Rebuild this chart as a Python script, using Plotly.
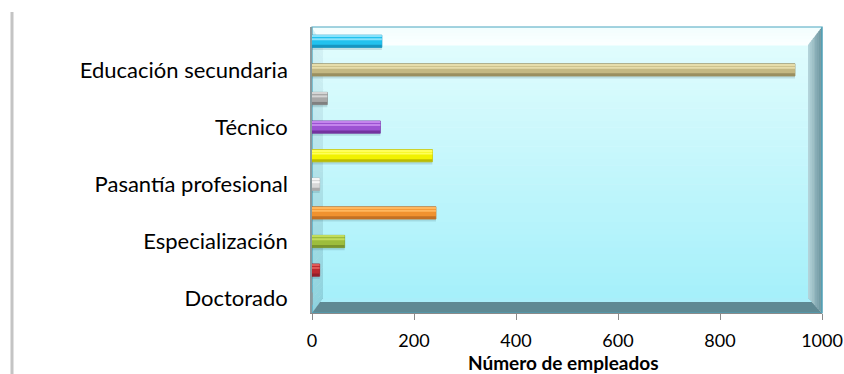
import plotly.graph_objects as go

# ---- data -------------------------------------------------------------
categories = [
    "Doctorado", "Maestría", "Especialización", "Profesional",
    "Pasantía profesional", "Tecnólogo", "Técnico", "Auxiliar",
    "Educación secundaria", "Educación primaria",
]
empleados = [0, 15, 64, 243, 15, 236, 134, 30, 947, 137]
axis_labels = categories[::2]
x_ticks = [0, 200, 400, 600, 800, 1000]

# bar shades: base face, light upper facet, dark lower facet
base_colors = ["#c0c0c0", "#bc2a2f", "#9dbd3d", "#f0922f", "#d8d8d8",
               "#f2f200", "#9c52d2", "#a8a8a8", "#c4b883", "#22c2ee"]
light_colors = ["#e0e0e0", "#e05a58", "#c2dc5c", "#ffb75e", "#f6f6f6",
                "#ffff5a", "#c384ec", "#d4d4d4", "#e6ddab", "#86e2fb"]
dark_colors = ["#9a9a9a", "#92202a", "#7a952e", "#c27124", "#acacac",
               "#bcbc00", "#73339f", "#808080", "#9a8f60", "#1697c2"]

# ---- geometry of the page -------------------------------------------
W, H = 844, 374
L, R, T, B = 312, 22, 27, 61
PW, PH = W - L - R, H - T - B


def px(xp):
    return (xp - L) / PW


def py(yp):
    return (H - B - yp) / PH


def poly(points, color, line=None):
    path = "M " + " L ".join(f"{px(a):.5f},{py(b):.5f}" for a, b in points) + " Z"
    return dict(type="path", xref="paper", yref="paper", path=path,
                fillcolor=color, line=dict(width=0) if line is None else line,
                layer="below")


def mix(c1, c2, t):
    a = [int(c1[i:i + 2], 16) for i in (1, 3, 5)]
    b = [int(c2[i:i + 2], 16) for i in (1, 3, 5)]
    return "#" + "".join(f"{round(x + (y - x) * t):02x}" for x, y in zip(a, b))


x0, x1, y0, y1 = 312, 822, 27, 313      # outer box
ix0, ix1, iy0, iy1 = 323, 808, 45, 298  # inner (back) face

shapes = []

# back face with a vertical gradient
n = 40
for i in range(n):
    ya = iy0 + (iy1 - iy0) * i / n
    yb = iy0 + (iy1 - iy0) * (i + 1) / n + 0.6
    shapes.append(poly([(ix0, ya), (ix1, ya), (ix1, yb), (ix0, yb)],
                       mix("#dffcfd", "#a6f0fa", i / (n - 1))))

# left wall
for i in range(n):
    t0, t1 = i / n, (i + 1) / n
    ya_o, yb_o = y0 + (y1 - y0) * t0, y0 + (y1 - y0) * t1 + 0.6
    ya_i, yb_i = iy0 + (iy1 - iy0) * t0, iy0 + (iy1 - iy0) * t1 + 0.6
    shapes.append(poly([(x0, ya_o), (ix0, ya_i), (ix0, yb_i), (x0, yb_o)],
                       mix("#d4f2f5", "#8fd3de", i / (n - 1))))

# top bevel
for i in range(6):
    t0, t1 = i / 6, (i + 1) / 6
    ya = y0 + (iy0 - y0) * t0
    yb = y0 + (iy0 - y0) * t1 + 0.5
    xa_l = x0 + (ix0 - x0) * t0
    xb_l = x0 + (ix0 - x0) * t1
    xa_r = x1 + (ix1 - x1) * t0
    xb_r = x1 + (ix1 - x1) * t1
    shapes.append(poly([(xa_l, ya), (xa_r, ya), (xb_r, yb), (xb_l, yb)],
                       mix("#f2fefe", "#fbffff", i / 5)))

# right wall with a horizontal gradient
m = 8


def wall_top(x):
    return iy0 - (x - ix1) * (iy0 - y0) / (x1 - ix1)


def wall_bot(x):
    return iy1 + (x - ix1) * (y1 - iy1) / (x1 - ix1)


for i in range(m):
    xa = ix1 + (x1 - ix1) * i / m
    xb = ix1 + (x1 - ix1) * (i + 1) / m + 0.4
    shapes.append(poly([(xa, wall_top(xa)), (xb, wall_top(xb)),
                        (xb, wall_bot(xb)), (xa, wall_bot(xa))],
                       mix("#b3d3da", "#6a939c", i / (m - 1))))

# floor
shapes.append(poly([(ix0, iy1), (ix1, iy1), (x1, y1), (x0, y1)], "#5f8993"))
shapes.append(poly([(ix0, iy1), (ix1, iy1), (ix1 + 4, iy1 + 4), (ix0 - 3, iy1 + 4)], "#a9eef9"))

# thin teal outline of the box
shapes.append(dict(type="rect", xref="paper", yref="paper",
                   x0=px(x0), x1=px(x1), y0=py(y1), y1=py(y0),
                   line=dict(color="#4aa6c0", width=1.2), layer="below"))

# frame line on the far left of the chart area
shapes.append(dict(type="line", xref="paper", yref="paper",
                   x0=px(12), x1=px(12), y0=py(12), y1=py(374),
                   line=dict(color="#c4c4c4", width=3), layer="below"))

# ---- bars ---------------------------------------------------------------
fig = go.Figure()

bar_w = 0.43
common = dict(x=empleados, y=categories, orientation="h", hoverinfo="skip",
              showlegend=False)

# soft shadow
fig.add_trace(go.Bar(**common, width=bar_w, offset=-bar_w / 2 - 0.09,
                     marker=dict(color="rgba(40,90,100,0.16)", line=dict(width=0))))
# lower dark facet (full bar body)
fig.add_trace(go.Bar(**common, width=bar_w, offset=-bar_w / 2,
                     marker=dict(color=dark_colors,
                                 line=dict(color=dark_colors, width=0.8))))
# main face
fig.add_trace(go.Bar(**common, width=0.30, offset=-0.12,
                     marker=dict(color=base_colors, line=dict(width=0))))
# highlight stripe
fig.add_trace(go.Bar(**common, width=0.07, offset=0.04,
                     marker=dict(color=light_colors, line=dict(width=0))))
# upper bevel edge
fig.add_trace(go.Bar(**common, width=0.05, offset=0.16,
                     marker=dict(color=light_colors, line=dict(width=0))))

fig.update_layout(
    width=W, height=H,
    margin=dict(l=L, r=R, t=T, b=B, autoexpand=False),
    paper_bgcolor="white",
    plot_bgcolor="rgba(0,0,0,0)",
    barmode="overlay",
    font=dict(family="Lato, 'Open Sans', sans-serif", color="#000000"),
    shapes=shapes,
    xaxis=dict(
        range=[0, 1000], tickmode="array", tickvals=x_ticks,
        ticks="outside", ticklen=6, tickcolor="#8a8a8a",
        showgrid=False, zeroline=False, showline=True,
        linecolor="#8a8a8a", linewidth=1, automargin=False,
        tickfont=dict(size=18), ticklabelstandoff=5,
    ),
    yaxis=dict(
        type="category", categoryorder="array", categoryarray=categories,
        range=[-0.5, len(categories) - 0.5],
        tickmode="array", tickvals=axis_labels, ticktext=axis_labels,
        ticks="", showgrid=False, zeroline=False, showline=True,
        linecolor="#8a9a9e", linewidth=1.5, automargin=False,
        tickfont=dict(size=22), ticklabelstandoff=18,
    ),
    annotations=[dict(
        text="<b>Número de empleados</b>", xref="paper", yref="paper",
        x=px(563), y=py(362), xanchor="center", yanchor="middle",
        showarrow=False, font=dict(size=19),
    )],
)

fig.write_html("out.html")
